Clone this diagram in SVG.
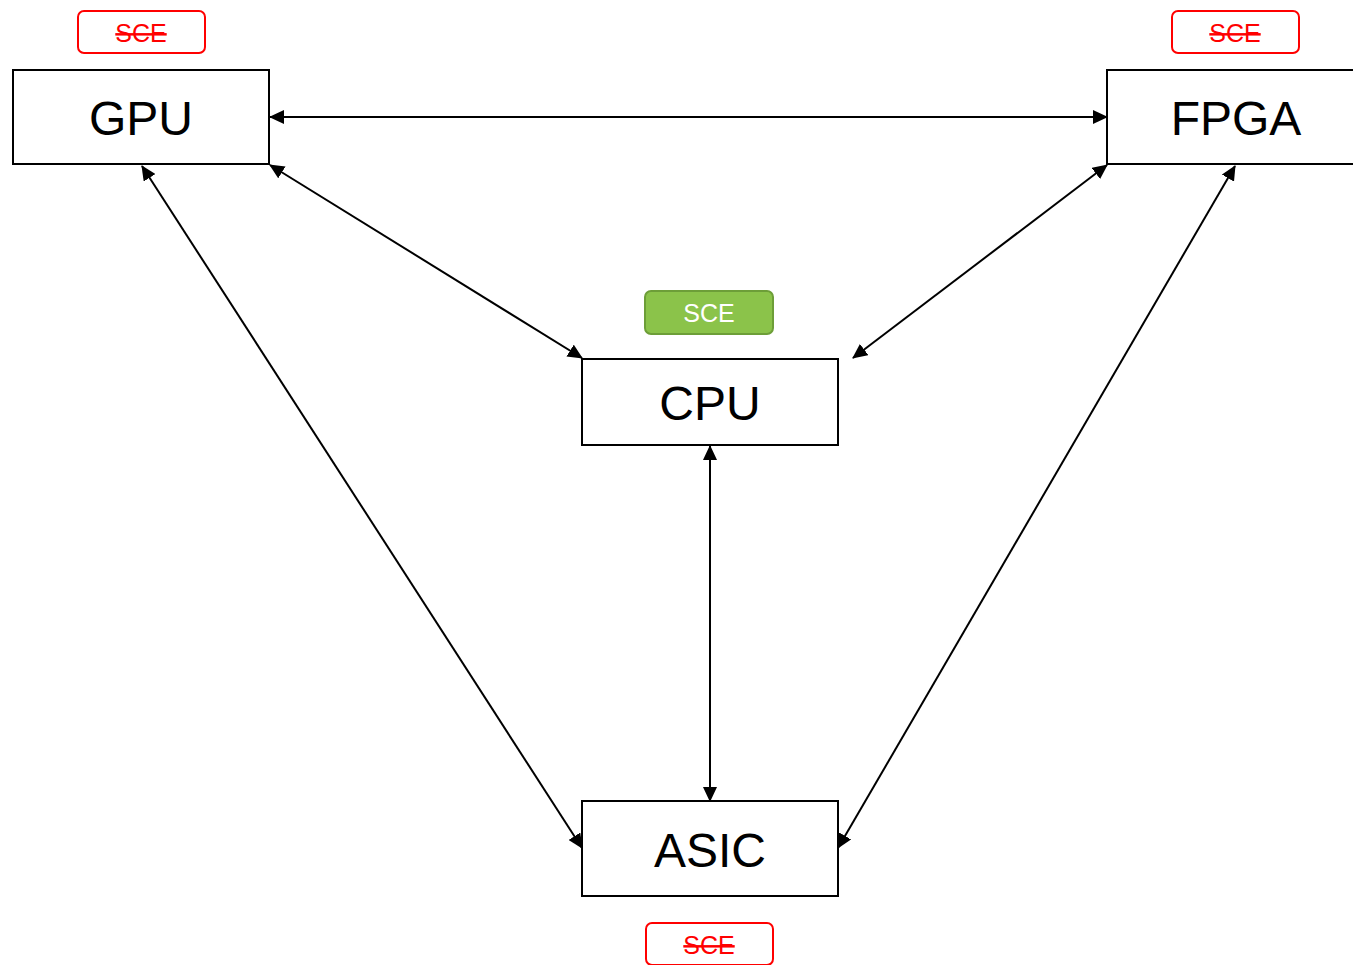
<svg xmlns="http://www.w3.org/2000/svg" width="1353" height="965" viewBox="0 0 1353 965">
  <style>
    .box { fill: #ffffff; stroke: #000000; stroke-width: 2; }
    .label { font-family: "Liberation Sans", Arial, sans-serif; font-size: 48px; fill: #000000; text-anchor: middle; }
    .badge-off { fill: #ffffff; stroke: #ff0000; stroke-width: 2; }
    .badge-on { fill: #8bc34a; stroke: #6d9e38; stroke-width: 2; }
    .badge-text { font-family: "Liberation Sans", Arial, sans-serif; font-size: 25px; text-anchor: middle; }
    .off { fill: #ff0000; text-decoration: line-through; }
    .on { fill: #ffffff; }
    .link { fill: none; stroke: #000000; stroke-width: 2; marker-start: url(#arrow); marker-end: url(#arrow); }
  </style>
  <defs>
    <marker id="arrow" markerUnits="userSpaceOnUse" markerWidth="15" markerHeight="14" refX="14" refY="7" orient="auto-start-reverse">
      <path d="M0,0 L15,7 L0,14 z" fill="#000000"/>
    </marker>
  </defs>
  <rect width="1353" height="965" fill="#ffffff"/>

  <g id="connectors">
    <line class="link" x1="270" y1="117" x2="1107" y2="117"/>
    <line class="link" x1="270" y1="165" x2="582" y2="358"/>
    <line class="link" x1="142" y1="166" x2="582" y2="848"/>
    <line class="link" x1="1107" y1="165" x2="853" y2="358"/>
    <line class="link" x1="1235" y1="166" x2="838" y2="848"/>
    <line class="link" x1="710" y1="446" x2="710" y2="801"/>
  </g>

  <g id="gpu">
    <rect class="box" x="13" y="70" width="256" height="94"/>
    <text class="label" x="141" y="135">GPU</text>
  </g>
  <g id="gpu-sce">
    <rect class="badge-off" x="78" y="11" width="127" height="42" rx="6"/>
    <text class="badge-text off" x="141" y="42">SCE</text>
  </g>

  <g id="fpga">
    <rect class="box" x="1107" y="70" width="256" height="94"/>
    <text class="label" x="1236" y="135">FPGA</text>
  </g>
  <g id="fpga-sce">
    <rect class="badge-off" x="1172" y="11" width="127" height="42" rx="6"/>
    <text class="badge-text off" x="1235" y="42">SCE</text>
  </g>

  <g id="cpu">
    <rect class="box" x="582" y="359" width="256" height="86"/>
    <text class="label" x="710" y="420">CPU</text>
  </g>
  <g id="cpu-sce">
    <rect class="badge-on" x="645" y="291" width="128" height="43" rx="6"/>
    <text class="badge-text on" x="709" y="322">SCE</text>
  </g>

  <g id="asic">
    <rect class="box" x="582" y="801" width="256" height="95"/>
    <text class="label" x="710" y="867">ASIC</text>
  </g>
  <g id="asic-sce">
    <rect class="badge-off" x="646" y="923" width="127" height="42" rx="6"/>
    <text class="badge-text off" x="709" y="954">SCE</text>
  </g>
</svg>
